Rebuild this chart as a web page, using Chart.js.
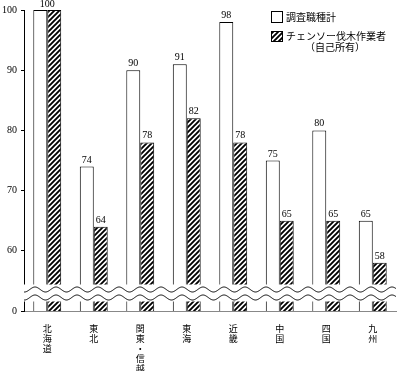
<!DOCTYPE html>
<html><head><meta charset="utf-8">
<script src="https://cdn.jsdelivr.net/npm/chart.js@4/dist/chart.umd.min.js"></script>
<style>html,body{margin:0;padding:0;background:#fff;}canvas{display:block;}</style>
</head><body>
<canvas id="c" width="400" height="371"></canvas>
<script>
const categories = [['北','海','道'],['東','北'],['関','東','・','信','越'],['東','海'],['近','畿'],['中','国'],['四','国'],['九','州']];
const seriesNames = ['調査職種計','チェンソー伐木作業者','（自己所有）'];
const totalValues = [100,74,90,91,98,75,80,65];
const chainsawValues = [100,64,78,82,78,65,65,58];
const yTicks = [50,60,70,80,90,100];
const yTickLabels = ['0','60','70','80','90','100'];

const LATIN = "'Liberation Serif','Noto Sans CJK JP',serif";
const CJK = "'Noto Sans CJK JP',sans-serif";

function makeHatch(){
  const s = 5, p = document.createElement('canvas');
  p.width = s; p.height = s;
  const g = p.getContext('2d');
  g.fillStyle = '#fff'; g.fillRect(0,0,s,s);
  g.strokeStyle = '#000'; g.lineWidth = 1.9;
  g.beginPath();
  g.moveTo(-1, s+1); g.lineTo(s+1, -1);
  g.moveTo(-1, 1); g.lineTo(1, -1);
  g.moveTo(s-1, s+1); g.lineTo(s+1, s-1);
  g.stroke();
  return document.getElementById('c').getContext('2d').createPattern(p,'repeat');
}
const hatch = makeHatch();

const breakPlugin = {
  id:'breakMark',
  afterDatasetsDraw(chart){
    const ctx = chart.ctx, a = chart.chartArea;
    ctx.save();
    ctx.fillStyle = '#fff';
    ctx.fillRect(a.left-2, 284.5, a.right - a.left + 6, 17);
    ctx.strokeStyle = '#000'; ctx.lineWidth = 1;
    const period = 21, amp = 2.5, phase = 35;
    [289.5, 297.5].forEach(cy=>{
      ctx.beginPath();
      for(let x=a.left; x<=a.right; x+=0.5){
        const y = cy - amp*Math.cos((x-phase)/period*2*Math.PI);
        if(x===a.left) ctx.moveTo(x,y); else ctx.lineTo(x,y);
      }
      ctx.stroke();
    });
    ctx.restore();
  }
};

const labelPlugin = {
  id:'valueLabels',
  afterDatasetsDraw(chart){
    const ctx = chart.ctx;
    const m0 = chart.getDatasetMeta(0).data, m1 = chart.getDatasetMeta(1).data;
    ctx.save();
    ctx.font = '10px ' + LATIN; ctx.fillStyle = '#000';
    ctx.textAlign = 'center'; ctx.textBaseline = 'alphabetic';
    totalValues.forEach((v,i)=>{
      if(v === chainsawValues[i]){
        const x = (m0[i].x + m1[i].x)/2;
        ctx.fillText(String(v), x, m0[i].y - 3);
      } else {
        ctx.fillText(String(v), m0[i].x, m0[i].y - 4);
        ctx.fillText(String(chainsawValues[i]), m1[i].x, m1[i].y - 4);
      }
    });
    ctx.restore();
  }
};

const legendPlugin = {
  id:'customLegend',
  afterDraw(chart){
    const ctx = chart.ctx;
    ctx.save();
    ctx.lineWidth = 1; ctx.strokeStyle = '#000';
    ctx.fillStyle = '#fff';
    ctx.fillRect(271.5,11.5,11,11); ctx.strokeRect(271.5,11.5,11,11);
    ctx.fillStyle = hatch;
    ctx.fillRect(271.5,31.5,11,10); ctx.strokeRect(271.5,31.5,11,10);
    ctx.fillStyle = '#000'; ctx.font = '10px ' + CJK;
    ctx.textBaseline = 'middle'; ctx.textAlign = 'left';
    ctx.fillText(seriesNames[0], 286, 17.5);
    ctx.fillText(seriesNames[1], 286, 36.5);
    ctx.textAlign = 'center';
    ctx.fillText(seriesNames[2], 335, 47.5);
    ctx.restore();
  }
};

new Chart(document.getElementById('c'), {
  type:'bar',
  data:{
    labels: categories,
    datasets:[
      {label: seriesNames[0], data: totalValues, backgroundColor:'#fff', borderColor:'#000', borderWidth:1,
       categoryPercentage:0.6, barPercentage:1},
      {label: seriesNames[1] + seriesNames[2], data: chainsawValues, backgroundColor: hatch, borderColor:'#000', borderWidth:1,
       categoryPercentage:0.6, barPercentage:1}
    ]
  },
  options:{
    responsive:false, animation:false,
    layout:{padding:{top:10,right:4,left:0,bottom:0}},
    plugins:{legend:{display:false}, tooltip:{enabled:false}},
    scales:{
      x:{
        grid:{display:false},
        border:{display:true, color:'#888', width:1},
        ticks:{color:'#000', font:{family:CJK, size:9, lineHeight:1.11}, padding:5, maxRotation:0, autoSkip:false},
        afterFit(s){ s.height = 60; }
      },
      y:{
        min:50, max:100,
        afterBuildTicks(s){ s.ticks = yTicks.map(v=>({value:v})); },
        grid:{drawOnChartArea:false, color:'#000', tickLength:3},
        border:{display:true, color:'#000', width:1},
        ticks:{color:'#000', font:{family:LATIN, size:10}, padding:4,
          callback(v){ const i = yTicks.indexOf(v); return i>=0 ? yTickLabels[i] : ''; }},
        afterFit(s){ s.width = 24; }
      }
    }
  },
  plugins:[breakPlugin, labelPlugin, legendPlugin]
});
</script>
</body></html>
